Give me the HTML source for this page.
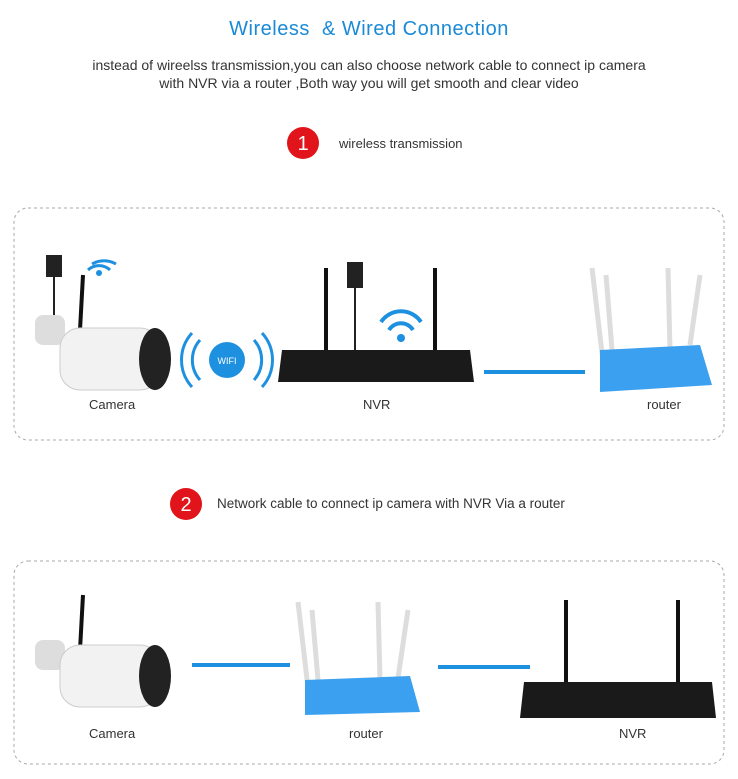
<!DOCTYPE html>
<html><head><meta charset="utf-8"><style>
body{margin:0;width:738px;height:779px;background:#fff;position:relative;font-family:"Liberation Sans",sans-serif;overflow:hidden}
.a{position:absolute}
.t{color:#333;font-size:13px}
</style></head><body>
<div class="a" style="left:0;width:738px;top:18px;text-align:center;color:#1a8ad6;font-size:20px;letter-spacing:0.5px">Wireless &nbsp;&amp; Wired Connection</div>
<div class="a t" style="left:0;width:738px;top:56px;text-align:center;line-height:18px;font-size:14px">instead of wireelss transmission,you can also choose network cable to connect ip camera<br>with NVR via a router ,Both way you will get smooth and clear video</div>
<svg class="a" style="left:0;top:0" width="738" height="779">
<circle cx="303" cy="143" r="16" fill="#e0141a"/><text x="303" y="150" fill="#fff" font-size="20" text-anchor="middle" font-family="Liberation Sans">1</text>
<circle cx="186" cy="504" r="16" fill="#e0141a"/><text x="186" y="511" fill="#fff" font-size="20" text-anchor="middle" font-family="Liberation Sans">2</text>
<rect x="14" y="208" width="710" height="232" rx="14" fill="none" stroke="#aaa" stroke-dasharray="3,3"/>
<rect x="14" y="561" width="710" height="203" rx="14" fill="none" stroke="#aaa" stroke-dasharray="3,3"/>
<rect x="46" y="255" width="16" height="22" fill="#222"/><line x1="54" y1="277" x2="54" y2="315" stroke="#222" stroke-width="2"/>
<path d="M88 270 a16 16 0 0 1 22 0 M92 264 a24 24 0 0 1 24 0" stroke="#1e90e0" stroke-width="3" fill="none"/><circle cx="99" cy="273" r="3" fill="#1e90e0"/>
<line x1="83" y1="275" x2="80" y2="330" stroke="#111" stroke-width="4"/>
<rect x="35" y="315" width="30" height="30" rx="8" fill="#ddd"/>
<rect x="60" y="328" width="100" height="62" rx="20" fill="#f2f2f2" stroke="#ccc"/>
<ellipse cx="155" cy="359" rx="16" ry="31" fill="#222"/>
<circle cx="227" cy="360" r="18" fill="#1e90e0"/><text x="227" y="364" fill="#fff" font-size="9" text-anchor="middle">WIFI</text>
<path d="M200 340 a30 30 0 0 0 0 40 M192 333 a40 40 0 0 0 0 54 M254 340 a30 30 0 0 1 0 40 M262 333 a40 40 0 0 1 0 54" stroke="#1e90e0" stroke-width="3" fill="none"/>
<line x1="326" y1="268" x2="326" y2="350" stroke="#111" stroke-width="4"/><line x1="435" y1="268" x2="435" y2="350" stroke="#111" stroke-width="4"/>
<rect x="347" y="262" width="16" height="26" fill="#222"/><line x1="355" y1="288" x2="355" y2="350" stroke="#222" stroke-width="2"/>
<path d="M381 322 a24 24 0 0 1 40 0 M389 330 a14 14 0 0 1 24 0" stroke="#1e90e0" stroke-width="4" fill="none"/><circle cx="401" cy="338" r="4" fill="#1e90e0"/>
<path d="M282 350 L470 350 L474 382 L278 382 Z" fill="#1a1a1a"/>
<line x1="484" y1="372" x2="585" y2="372" stroke="#1e90e0" stroke-width="4"/>
<line x1="592" y1="268" x2="604" y2="370" stroke="#ddd" stroke-width="5"/><line x1="606" y1="275" x2="612" y2="350" stroke="#ddd" stroke-width="5"/><line x1="668" y1="268" x2="670" y2="350" stroke="#ddd" stroke-width="5"/><line x1="700" y1="275" x2="690" y2="345" stroke="#ddd" stroke-width="5"/>
<path d="M600 350 L700 345 L712 385 L600 392 Z" fill="#3aa0ef"/>
<line x1="83" y1="595" x2="80" y2="650" stroke="#111" stroke-width="4"/>
<rect x="35" y="640" width="30" height="30" rx="8" fill="#ddd"/>
<rect x="60" y="645" width="100" height="62" rx="20" fill="#f2f2f2" stroke="#ccc"/>
<ellipse cx="155" cy="676" rx="16" ry="31" fill="#222"/>
<line x1="192" y1="665" x2="290" y2="665" stroke="#1e90e0" stroke-width="4"/>
<line x1="298" y1="602" x2="310" y2="705" stroke="#ddd" stroke-width="5"/><line x1="312" y1="610" x2="318" y2="680" stroke="#ddd" stroke-width="5"/><line x1="378" y1="602" x2="380" y2="680" stroke="#ddd" stroke-width="5"/><line x1="408" y1="610" x2="398" y2="678" stroke="#ddd" stroke-width="5"/>
<path d="M305 680 L410 676 L420 712 L305 715 Z" fill="#3aa0ef"/>
<line x1="438" y1="667" x2="530" y2="667" stroke="#1e90e0" stroke-width="4"/>
<line x1="566" y1="600" x2="566" y2="685" stroke="#111" stroke-width="4"/><line x1="678" y1="600" x2="678" y2="685" stroke="#111" stroke-width="4"/>
<path d="M524 682 L712 682 L716 718 L520 718 Z" fill="#1a1a1a"/>
</svg>
<div class="a t" style="left:339px;top:136px">wireless transmission</div>
<div class="a t" style="left:217px;top:496px;font-size:13.5px">Network cable to connect ip camera with NVR Via a router</div>
<div class="a t" style="left:89px;top:397px">Camera</div>
<div class="a t" style="left:363px;top:397px">NVR</div>
<div class="a t" style="left:647px;top:397px">router</div>
<div class="a t" style="left:89px;top:726px">Camera</div>
<div class="a t" style="left:349px;top:726px">router</div>
<div class="a t" style="left:619px;top:726px">NVR</div>
</body></html>
